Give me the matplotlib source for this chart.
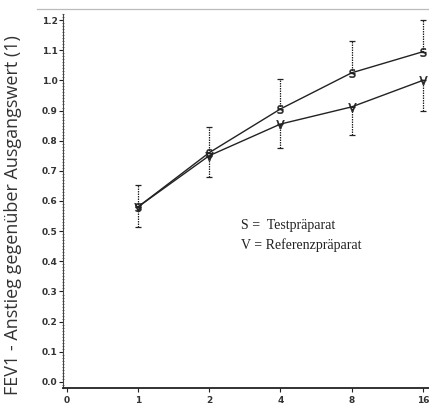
import matplotlib
matplotlib.use("Agg")
import matplotlib.pyplot as plt
from matplotlib.ticker import MultipleLocator
import numpy as np

x_labels = ["0", "1", "2", "4", "8", "16"]
x_idx = [1, 2, 3, 4, 5]
s_vals = [0.58, 0.76, 0.905, 1.025, 1.095]
v_vals = [0.58, 0.75, 0.855, 0.912, 1.000]
s_err_up = [0.073, 0.086, 0.099, 0.105, 0.105]
v_err_down = [0.065, 0.070, 0.080, 0.093, 0.102]
y_ticks = [0.0, 0.1, 0.2, 0.3, 0.4, 0.5, 0.6, 0.7, 0.8, 0.9, 1.0, 1.1, 1.2]

W, H = 429, 405
fig = plt.figure(figsize=(W / 100, H / 100), dpi=100)
left, right, top, bottom = 63, 429, 14, 388
ax = fig.add_axes([left / W, 1 - bottom / H, (right - left) / W, (bottom - top) / H])
ax.set_xlim(-0.05, 5.085)
ax.set_ylim(-0.02, 1.22)

col = "#222222"
# error bars
ax.errorbar(x_idx, s_vals, yerr=[np.zeros(len(s_vals)), s_err_up], fmt="none",
            ecolor=col, elinewidth=0.9, capsize=2.2, capthick=0.9)
ax.errorbar(x_idx, v_vals, yerr=[v_err_down, np.zeros(len(v_vals))], fmt="none",
            ecolor=col, elinewidth=0.9, capsize=2.2, capthick=0.9)
for c in ax.collections:
    c.set_linestyle((0, (1.2, 0.8)))

ax.plot(x_idx, s_vals, color=col, lw=1.0, marker=r"$\mathrm{S}$", markersize=6,
        markeredgewidth=0.4, markerfacecolor=col, markeredgecolor=col)
ax.plot(x_idx, v_vals, color=col, lw=1.0, marker=r"$\mathrm{V}$", markersize=6,
        markeredgewidth=0.4, markerfacecolor=col, markeredgecolor=col)

ax.set_xticks(range(len(x_labels)))
ax.set_xticklabels(x_labels)
ax.set_yticks(y_ticks)
ax.set_yticklabels([f"{t:.1f}" for t in y_ticks])
ax.yaxis.set_minor_locator(MultipleLocator(0.01))

for lab in ax.get_xticklabels() + ax.get_yticklabels():
    lab.set_fontweight("bold")
    lab.set_fontsize(6.5)
    lab.set_color("#333333")

ax.tick_params(axis="y", which="major", direction="out", length=3, width=0.8, pad=1, colors=col, labelcolor="#333333")
ax.tick_params(axis="y", which="minor", direction="inout", length=2, width=0.6, colors="#555555")
ax.tick_params(axis="x", which="major", direction="out", length=3, width=0.8, pad=3, colors=col, labelcolor="#333333")

for sp in ["top", "right"]:
    ax.spines[sp].set_visible(False)
ax.spines["left"].set_linewidth(0.8)
ax.spines["left"].set_color("#444444")
ax.spines["bottom"].set_linewidth(1.3)
ax.spines["bottom"].set_color(col)

# legend text
ax.text(2.45, 0.52, "S =  Testpräparat", family="Liberation Serif", fontsize=10, color="#222222",
        va="center", ha="left")
ax.text(2.45, 0.455, "V = Referenzpräparat", family="Liberation Serif", fontsize=10, color="#222222",
        va="center", ha="left")

# y label
fig.text(13 / W, 1 - 215 / H, "FEV1 - Anstieg gegenüber Ausgangswert (1)", rotation=90,
         family="Open Sans", fontsize=13, color="#333333", ha="center", va="center")

# top grey frame line
fig.add_artist(plt.Line2D([37 / W, 1.0], [1 - 9 / H, 1 - 9 / H], color="#bbbbbb", lw=0.9))

fig.savefig("out.png", dpi=100)
